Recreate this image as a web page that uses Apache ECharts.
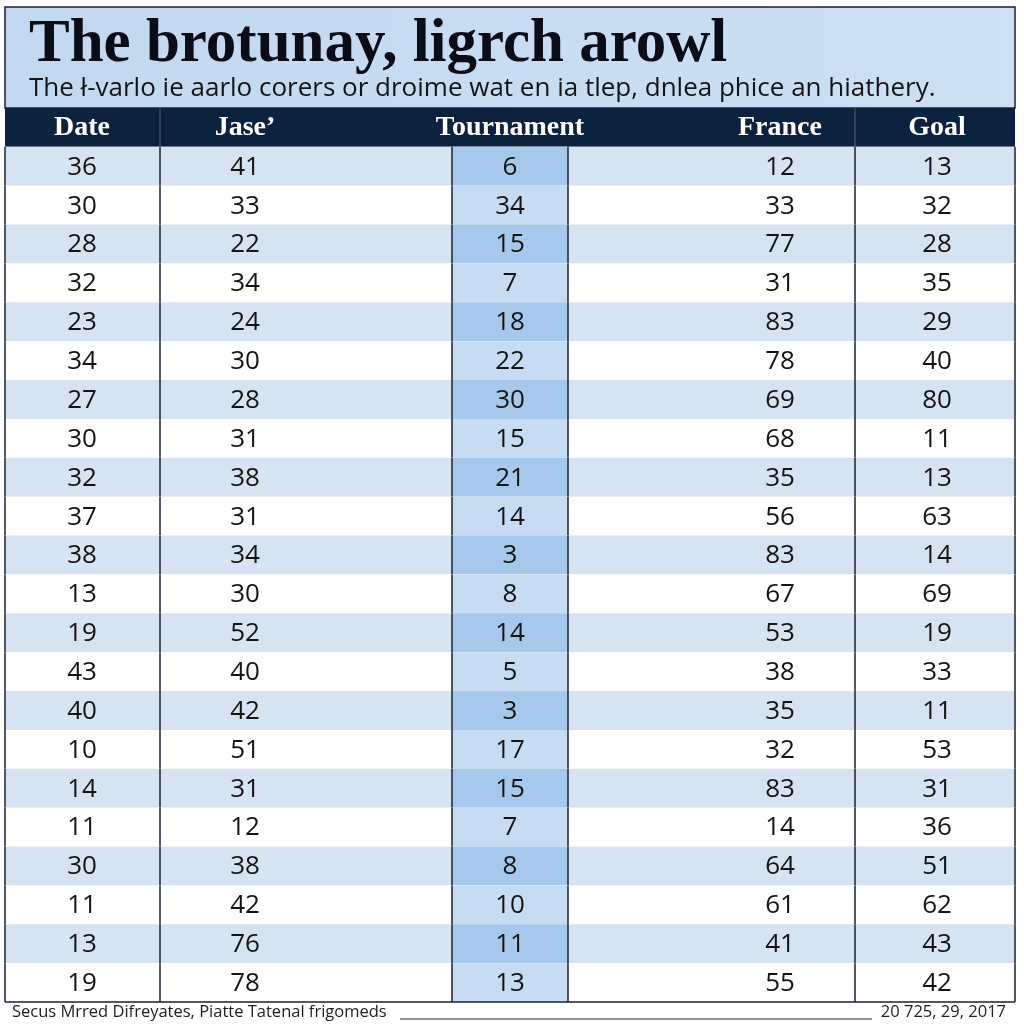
<!DOCTYPE html>
<html>
<head>
<meta charset="utf-8">
<style>
  html, body { margin: 0; padding: 0; background: #ffffff; }
  #chart { width: 1024px; height: 1024px; }
</style>
<script src="https://cdn.jsdelivr.net/npm/echarts@6.0.0/dist/echarts.min.js"></script>
</head>
<body>
<div id="chart"></div>
<script>
// table data
const COLUMNS = ['Date', 'Jase\u2019', 'Tournament', 'France', 'Goal']
const ROWS = ['1', '2', '3', '4', '5', '6', '7', '8', '9', '10', '11',
  '12', '13', '14', '15', '16', '17', '18', '19', '20', '21', '22']
const DATE = [36, 30, 28, 32, 23, 34, 27, 30, 32, 37, 38, 13, 19, 43, 40, 10, 14, 11, 30, 11, 13, 19]
const JASE = [41, 33, 22, 34, 24, 30, 28, 31, 38, 31, 34, 30, 52, 40, 42, 51, 31, 12, 38, 42, 76, 78]
const TOURNAMENT = [6, 34, 15, 7, 18, 22, 30, 15, 21, 14, 3, 8, 14, 5, 3, 17, 15, 7, 8, 10, 11, 13]
const FRANCE = [12, 33, 77, 31, 83, 78, 69, 68, 35, 56, 83, 67, 53, 38, 35, 32, 83, 14, 64, 61, 41, 55]
const GOAL = [13, 32, 28, 35, 29, 40, 80, 11, 13, 63, 14, 69, 19, 33, 11, 53, 31, 36, 51, 62, 43, 42]

const TITLE = 'The brotunay, ligrch arowl'
const SUBTITLE = 'The \u0142-varlo ie aarlo corers or droime wat en ia tlep, dnlea phice an hiathery.'
const FOOT_LEFT = 'Secus Mrred Difreyates, Piatte Tatenal frigomeds'
const FOOT_RIGHT = '20 725, 29, 2017'

// layout (x axis runs 0..1010 across the table)
const COL_EDGES = [0, 155, 447, 563, 850, 1010]
const TEXT_X = [77, 240, 505, 775, 932]
const LINE = '#1b2030'

const chart = echarts.init(document.getElementById('chart'), null, { renderer: 'canvas' })

function renderHeader(params, api) {
  const r = api.value(1)
  const c = api.coord([0, r])
  const h = api.size([0, 1])[1]
  const x1 = api.coord([1010, r])[0]
  const y0 = c[1] - h / 2
  const kids = [{
    type: 'rect',
    shape: { x: c[0], y: y0, width: x1 - c[0], height: h },
    style: { fill: '#0d223f' }
  }]
  ;[155, 850].forEach(e => {
    const x = api.coord([e, r])[0]
    kids.push({ type: 'line', shape: { x1: x, y1: y0, x2: x, y2: y0 + h }, style: { stroke: '#52627a', lineWidth: 1 } })
  })
  COLUMNS.forEach((name, k) => {
    kids.push({
      type: 'text',
      style: {
        text: name, x: api.coord([TEXT_X[k], r])[0], y: c[1],
        align: 'center', verticalAlign: 'middle',
        fontFamily: 'Liberation Serif', fontWeight: 'bold', fontSize: 28, fill: '#ffffff'
      }
    })
  })
  return { type: 'group', children: kids }
}

function renderRow(params, api) {
  const r = api.value(1)
  const c = api.coord([0, r])
  const h = api.size([0, 1])[1]
  const x1 = api.coord([1010, r])[0]
  const y0 = c[1] - h / 2
  const striped = r % 2 === 1
  const kids = [{
    type: 'rect',
    shape: { x: c[0], y: y0, width: x1 - c[0], height: h },
    style: { fill: striped ? '#d6e3f0' : '#ffffff' }
  }]
  const tx0 = api.coord([COL_EDGES[2], r])[0]
  const tx1 = api.coord([COL_EDGES[3], r])[0]
  kids.push({
    type: 'rect',
    shape: { x: tx0, y: y0, width: tx1 - tx0, height: h },
    style: { fill: striped ? '#a6c8ea' : '#c7dcf2' }
  })
  for (let k = 0; k < 5; k++) {
    kids.push({
      type: 'text',
      style: {
        text: String(api.value(2 + k)), x: api.coord([TEXT_X[k], r])[0], y: c[1] + 1,
        align: 'center', verticalAlign: 'middle',
        fontFamily: 'Open Sans', fontSize: 26, fill: '#141414'
      }
    })
  }
  COL_EDGES.forEach(e => {
    const x = api.coord([e, r])[0]
    kids.push({ type: 'line', shape: { x1: x, y1: y0, x2: x, y2: y0 + h }, style: { stroke: LINE, lineWidth: 1.5 } })
  })
  if (r === ROWS.length) {
    kids.push({ type: 'line', shape: { x1: c[0], y1: y0 + h, x2: x1, y2: y0 + h }, style: { stroke: LINE, lineWidth: 1.5 } })
  }
  return { type: 'group', children: kids }
}

const rowData = ROWS.map((_, i) => [0, i + 1, DATE[i], JASE[i], TOURNAMENT[i], FRANCE[i], GOAL[i]])

const option = {
  backgroundColor: '#ffffff',
  animation: false,
  title: {
    text: TITLE,
    subtext: SUBTITLE,
    left: 24,
    top: 10,
    itemGap: 0,
    textStyle: { fontFamily: 'Liberation Serif', fontWeight: 'bold', fontSize: 61, color: '#0a0c16' },
    subtextStyle: { fontFamily: 'Open Sans', fontSize: 26, color: '#141414' }
  },
  graphic: [
    {
      type: 'rect', z: -1,
      shape: { x: 5, y: 7, width: 1010, height: 101 },
      style: {
        fill: new echarts.graphic.LinearGradient(0, 0, 1, 0, [
          { offset: 0, color: '#c2d8f0' }, { offset: 1, color: '#cde0f4' }
        ]),
        stroke: LINE, lineWidth: 1.5
      }
    },
    {
      type: 'text', left: 12, top: 1004,
      style: { text: FOOT_LEFT, fontFamily: 'Open Sans', fontSize: 16.5, fill: '#1e1e1e' }
    },
    {
      type: 'line',
      shape: { x1: 400, y1: 1019, x2: 872, y2: 1019 },
      style: { stroke: '#222222', lineWidth: 1 }
    },
    {
      type: 'text', right: 18, top: 1004,
      style: { text: FOOT_RIGHT, fontFamily: 'Open Sans', fontSize: 16.5, fill: '#1e1e1e' }
    }
  ],
  grid: { left: 5, right: 9, top: 108, bottom: 22 },
  xAxis: { type: 'value', min: 0, max: 1010, show: false },
  yAxis: { type: 'category', data: ['', ...ROWS], inverse: true, show: false },
  series: [
    {
      type: 'custom',
      name: 'header',
      renderItem: renderHeader,
      encode: { x: 0, y: 1 },
      data: [[0, 0]],
      clip: false
    },
    {
      type: 'custom',
      name: 'rows',
      renderItem: renderRow,
      encode: { x: 0, y: 1 },
      data: rowData,
      clip: false
    }
  ]
}

chart.setOption(option)
</script>
</body>
</html>
